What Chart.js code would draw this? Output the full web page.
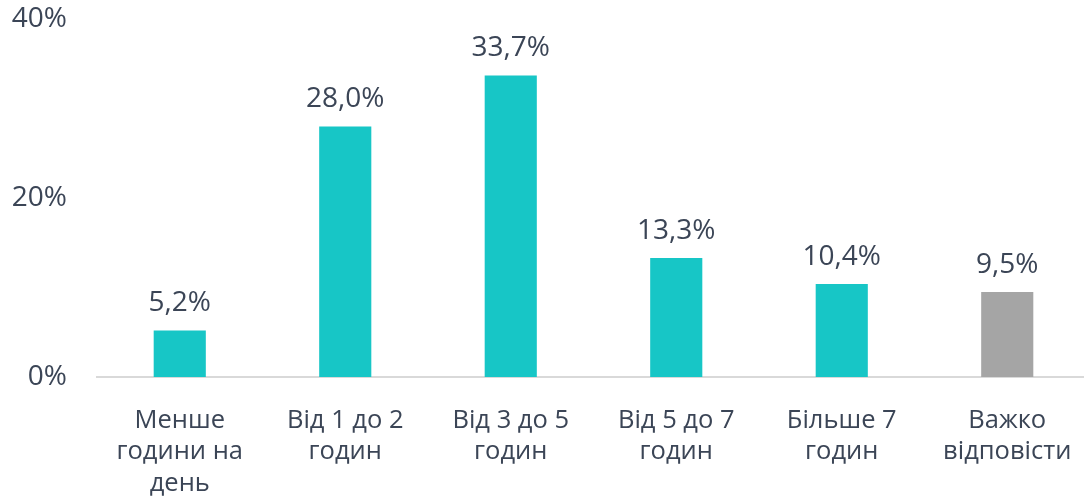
<!DOCTYPE html>
<html>
  <head>
    <script src="https://cdn.jsdelivr.net/npm/chart.js@4/dist/chart.umd.min.js"></script>
    <style>
      html, body { margin: 0; padding: 0; background: #fff; overflow: hidden; }
      #wrap { width: 1090px; height: 503px; }
    </style>
  </head>

  <body>
    <div id="wrap">
      <canvas id="canvas"></canvas>
    </div>
    <script>
      const categories = [
        ['Менше', 'години на', 'день'],
        ['Від 1 до 2', 'годин'],
        ['Від 3 до 5', 'годин'],
        ['Від 5 до 7', 'годин'],
        ['Більше 7', 'годин'],
        ['Важко', 'відповісти'],
      ];
      const values = [5.2, 28.0, 33.7, 13.3, 10.4, 9.5];
      const barColors = ['#17C6C6', '#17C6C6', '#17C6C6', '#17C6C6', '#17C6C6', '#A5A5A5'];

      const textColor = '#3B4556';
      const fontFamily = '"Open Sans", "Noto Sans", sans-serif';

      // value labels above the bars
      const valueLabels = {
        id: 'valueLabels',
        afterDatasetsDraw(chart) {
          const ctx = chart.ctx;
          const meta = chart.getDatasetMeta(0);
          ctx.save();
          ctx.font = '28px ' + fontFamily;
          ctx.fillStyle = textColor;
          ctx.textAlign = 'center';
          ctx.textBaseline = 'alphabetic';
          meta.data.forEach((bar, i) => {
            ctx.fillText(values[i].toFixed(1).replace('.', ',') + '%', bar.x, bar.y - 19);
          });
          ctx.restore();
        },
      };

      new Chart(document.getElementById('canvas'), {
        type: 'bar',
        data: {
          labels: categories,
          datasets: [
            {
              data: values,
              backgroundColor: barColors,
              categoryPercentage: 1,
              barPercentage: 0.315,
            },
          ],
        },
        options: {
          responsive: true,
          maintainAspectRatio: false,
          animation: false,
          layout: { padding: { top: 19, right: 0, left: 0, bottom: 0 } },
          plugins: {
            legend: { display: false },
            tooltip: { enabled: false },
          },
          scales: {
            x: {
              grid: { display: false },
              border: { display: true, color: '#D9D9D9', width: 2 },
              ticks: {
                color: textColor,
                font: { family: fontFamily, size: 25.5, lineHeight: 1.22 },
                padding: 20.5,
                maxRotation: 0,
                autoSkip: false,
              },
              afterFit(scale) {
                scale.height = 126;
                scale.paddingLeft = 0;
                scale.paddingRight = 0;
              },
            },
            y: {
              min: 0,
              max: 40,
              grid: { display: false },
              border: { display: false },
              ticks: {
                stepSize: 20,
                color: textColor,
                font: { family: fontFamily, size: 28 },
                padding: 22,
                callback: (v) => v + '%',
              },
              afterFit(scale) {
                scale.width = 97;
                scale.paddingTop = 0;
                scale.paddingBottom = 0;
              },
            },
          },
        },
        plugins: [valueLabels],
      });
    </script>
  </body>
</html>
